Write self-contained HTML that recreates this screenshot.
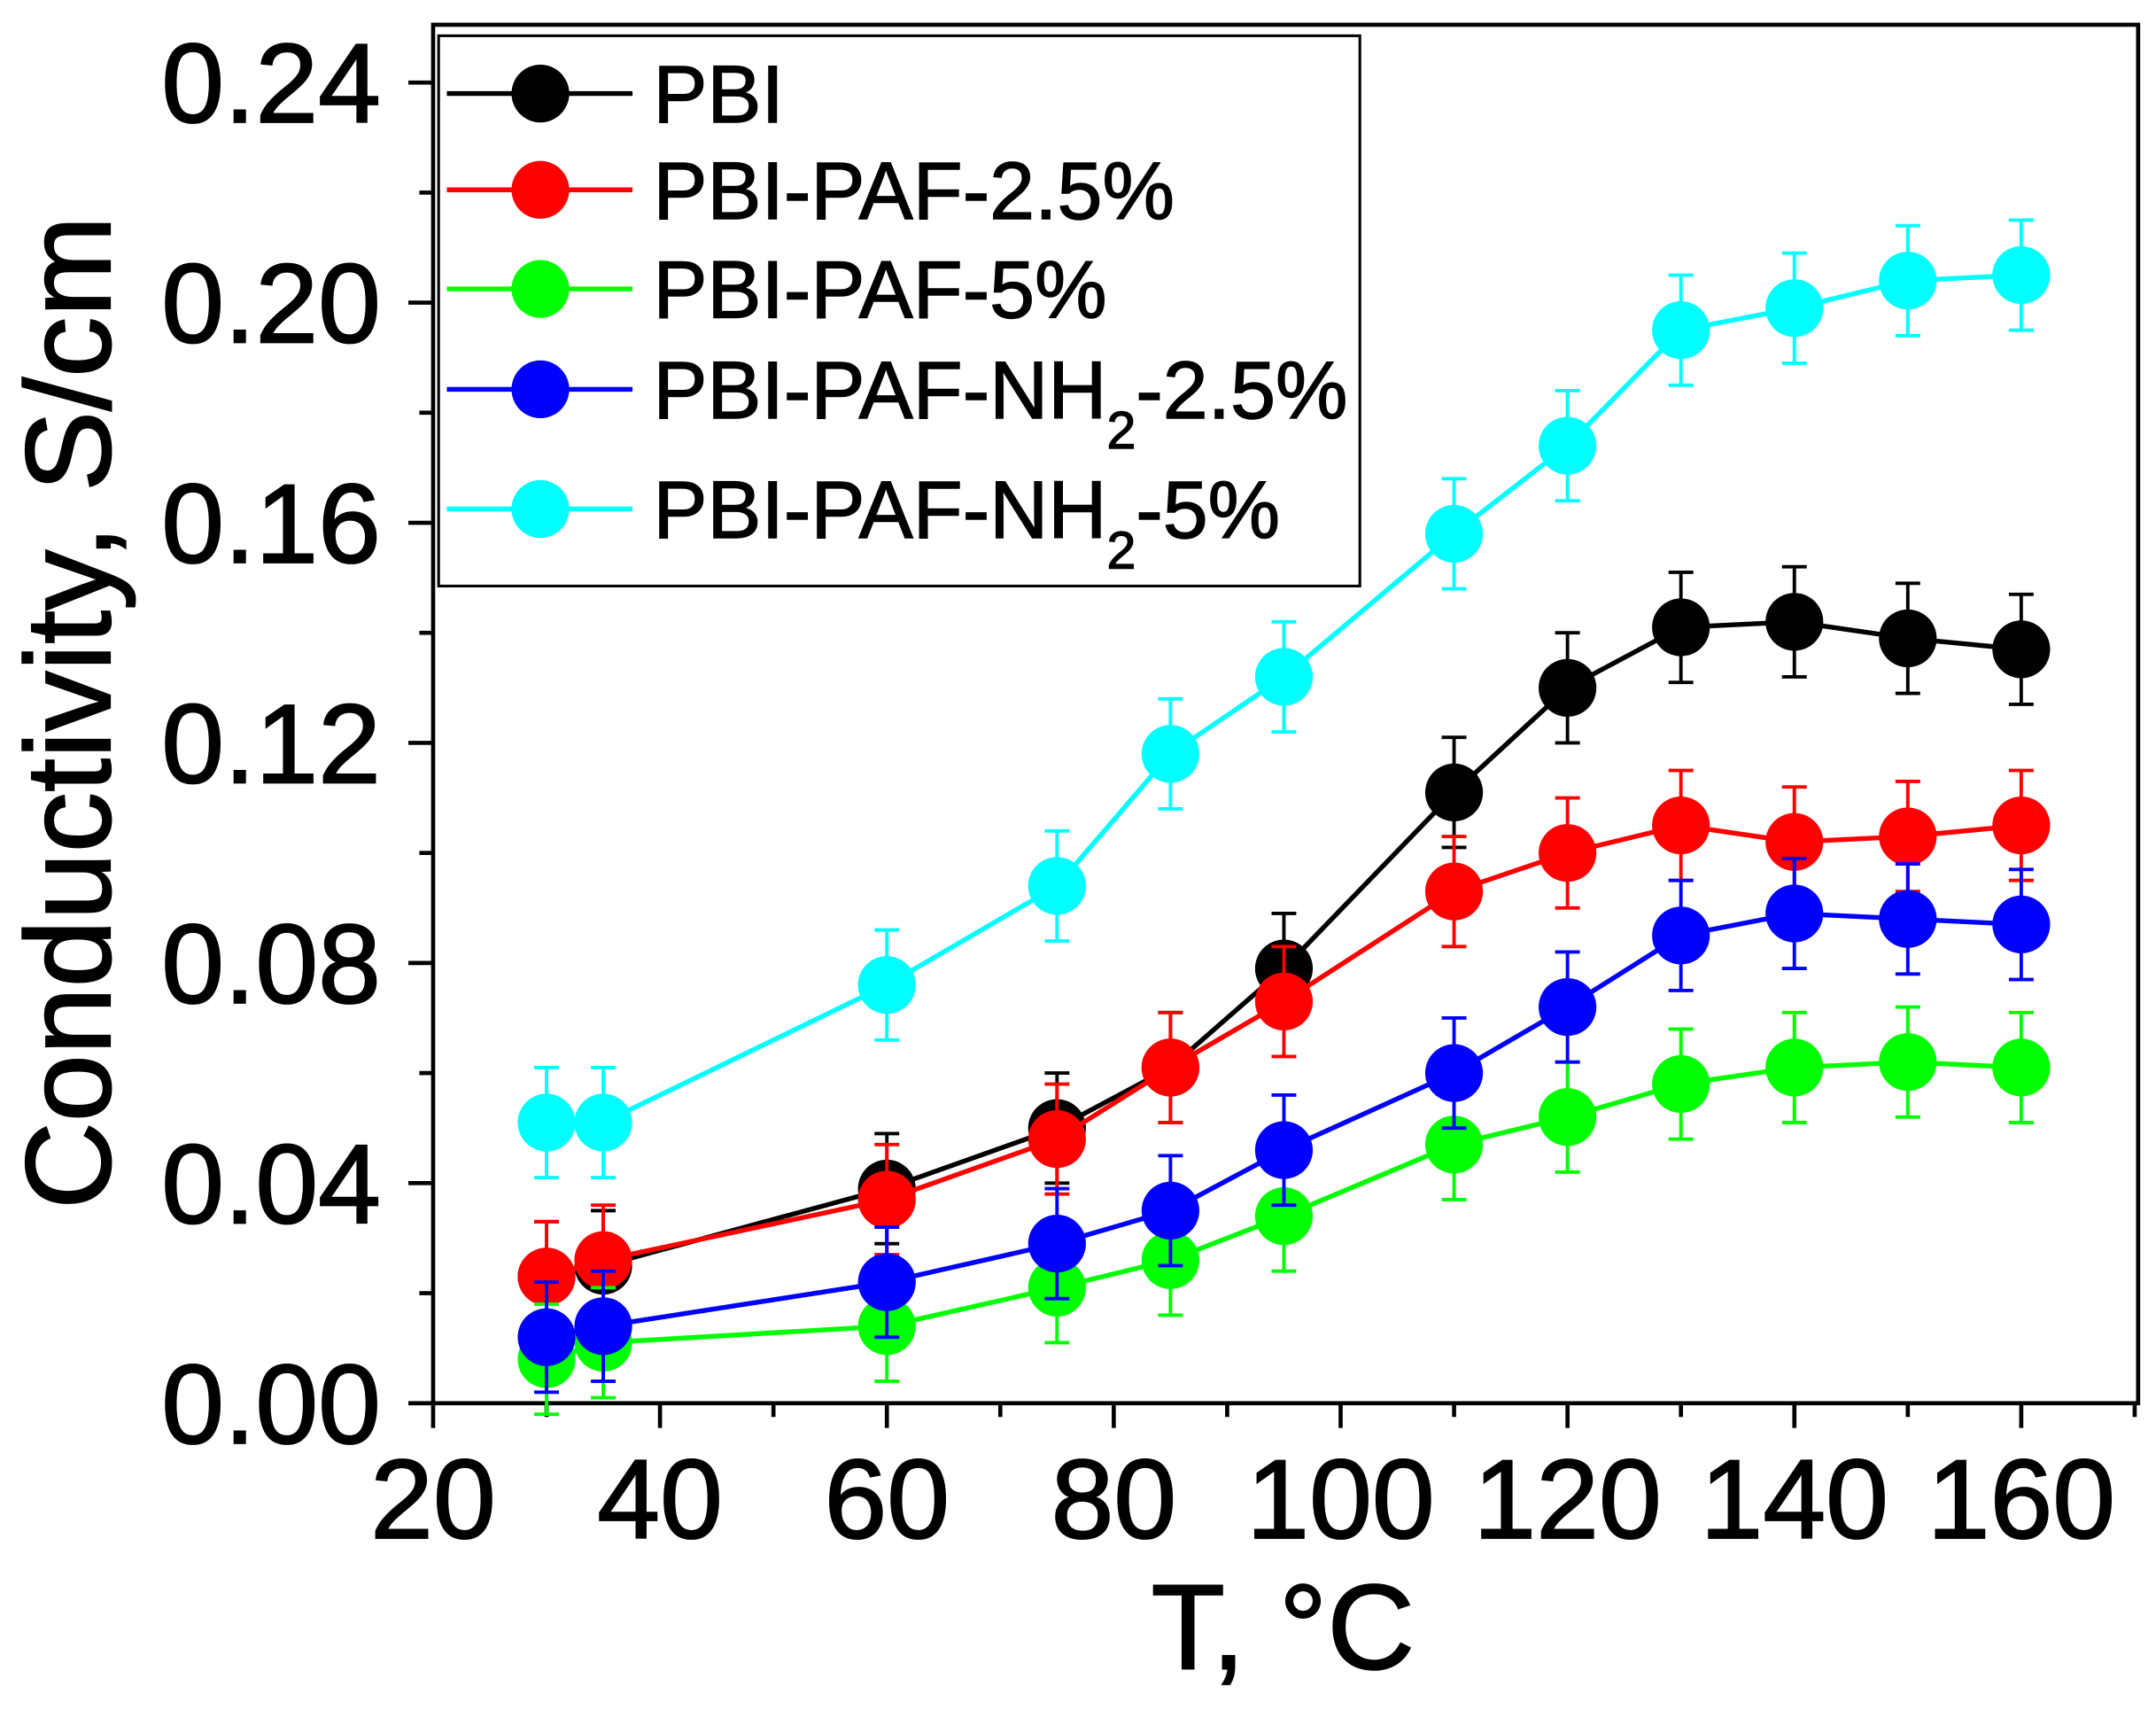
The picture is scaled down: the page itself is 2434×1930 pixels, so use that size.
<!DOCTYPE html>
<html><head><meta charset="utf-8"><style>
html,body{margin:0;padding:0;background:#fff;}
svg{display:block;font-family:"Liberation Sans",Arial,sans-serif;}
</style></head><body>
<svg id="chart" width="2434" height="1930" viewBox="0 0 1568 1243" preserveAspectRatio="none" xmlns="http://www.w3.org/2000/svg">
<rect x="0" y="0" width="1568" height="1243" fill="#fff"/>
<g id="plot"></g>
</svg>
<script>
const temps = [30,35,60,75,85,95,110,120,130,140,150,160];
const pbi = [0.023,0.025,0.039,0.050,0.061,0.079,0.111,0.130,0.141,0.142,0.139,0.137];
const paf25 = [0.023,0.026,0.037,0.048,0.061,0.073,0.093,0.100,0.105,0.102,0.103,0.105];
const paf5 = [0.008,0.011,0.014,0.021,0.026,0.034,0.047,0.052,0.058,0.061,0.062,0.061];
const nh25 = [0.012,0.014,0.022,0.029,0.035,0.046,0.060,0.072,0.085,0.089,0.088,0.087];
const nh5 = [0.051,0.051,0.076,0.094,0.118,0.132,0.158,0.174,0.195,0.199,0.204,0.205];
const errors = [0.01,0.01,0.01,0.01,0.01,0.01,0.01,0.01,0.01,0.01,0.01,0.01];
const xTicks = [20,40,60,80,100,120,140,160];
const yTicks = [0,0.04,0.08,0.12,0.16,0.20,0.24];
const yTickLabels = ["0.00","0.04","0.08","0.12","0.16","0.20","0.24"];
const seriesNames = ["PBI","PBI-PAF-2.5%","PBI-PAF-5%","PBI-PAF-NH2-2.5%","PBI-PAF-NH2-5%"];

const NS="http://www.w3.org/2000/svg";
const g=document.getElementById('plot');
const L=315,R=1555,T=18,B=1020;
const xs=v=>315+(v-20)*8.25;
const ys=v=>1020-v*4000;
function mk(tag,attrs,parent){const e=document.createElementNS(NS,tag);for(const k in attrs)e.setAttribute(k,attrs[k]);(parent||g).appendChild(e);return e;}

const frame=mk('rect',{x:L,y:T,width:R-L,height:B-T,fill:'none',stroke:'#000','stroke-width':3});



for(let v=20;v<=170;v+=10){
  const major=xTicks.includes(v);
  const t=mk('line',{x1:xs(v),x2:xs(v),y1:B,y2:B+(major?18:10),stroke:'#000','stroke-width':3});
  
  
}
xTicks.forEach(v=>{
  const t=mk('text',{x:xs(v),y:1118,'text-anchor':'middle','font-size':82,stroke:'#000','stroke-width':1.2});
  t.textContent=v;
  
  
});
for(let i=0;i<=12;i++){
  const v=i*0.02;const major=i%2===0;
  const t=mk('line',{x1:L-(major?18:10),x2:L,y1:ys(v),y2:ys(v),stroke:'#000','stroke-width':3});
  
  
}
yTicks.forEach((v,i)=>{
  const t=mk('text',{x:277,y:ys(v)+29,'text-anchor':'end','font-size':82,stroke:'#000','stroke-width':1.2});
  t.textContent=yTickLabels[i];
  
  
});
const xt=mk('text',{x:933,y:1213,'text-anchor':'middle','font-size':88,stroke:'#000','stroke-width':1.2});
xt.textContent='T, °C';


const yt=mk('text',{x:0,y:0,'text-anchor':'middle','font-size':88,stroke:'#000','stroke-width':1.2,transform:'translate(80,518) rotate(-90)'});
yt.textContent='Conductivity, S/cm';



const series=[[pbi,'#000000'],[paf25,'#ff0000'],[paf5,'#00ff00'],[nh25,'#0000ff'],[nh5,'#00ffff']];
const slugs=['pbi','paf-2-5','paf-5','paf-nh2-2-5','paf-nh2-5'];
series.forEach(([vals,col],si)=>{
  const sg=mk('g',{});
  
  
  const pts=temps.map((t,i)=>xs(t)+','+ys(vals[i])).join(' ');
  mk('polyline',{points:pts,fill:'none',stroke:col,'stroke-width':3.5},sg);
  temps.forEach((t,i)=>{
    const x=xs(t),y1=ys(vals[i]+errors[i]),y2=ys(vals[i]-errors[i]);
    const eb=mk('path',{d:`M${x},${y1}V${y2}M${x-9},${y1}H${x+9}M${x-9},${y2}H${x+9}`,stroke:col,'stroke-width':2.5,fill:'none'},sg);
    
    
  });
  temps.forEach((t,i)=>{
    const c=mk('circle',{cx:xs(t),cy:ys(vals[i]),r:21,fill:col},sg);
    
    
  });
});

const lg=mk('g',{});


mk('rect',{x:319,y:26,width:670,height:400,fill:'#fff',stroke:'#000','stroke-width':2},lg);
const ly=[68,138,210,283,370];
series.forEach(([v,col],i)=>{
  const e=mk('g',{},lg);
  
  
  mk('line',{x1:325,x2:460,y1:ly[i],y2:ly[i],stroke:col,'stroke-width':3.5},e);
  mk('circle',{cx:393,cy:ly[i],r:21,fill:col},e);
  const tx=mk('text',{x:475,y:ly[i]+21,'font-size':59,stroke:'#000','stroke-width':0.9},e);
  if(i===3||i===4){
    tx.textContent='PBI-PAF-NH';
    const s=mk('tspan',{'font-size':38,dy:22},tx);s.textContent='2';
    const r=mk('tspan',{dy:-22},tx);r.textContent=i===3?'-2.5%':'-5%';
  } else tx.textContent=seriesNames[i];
});
</script>
</body></html>
